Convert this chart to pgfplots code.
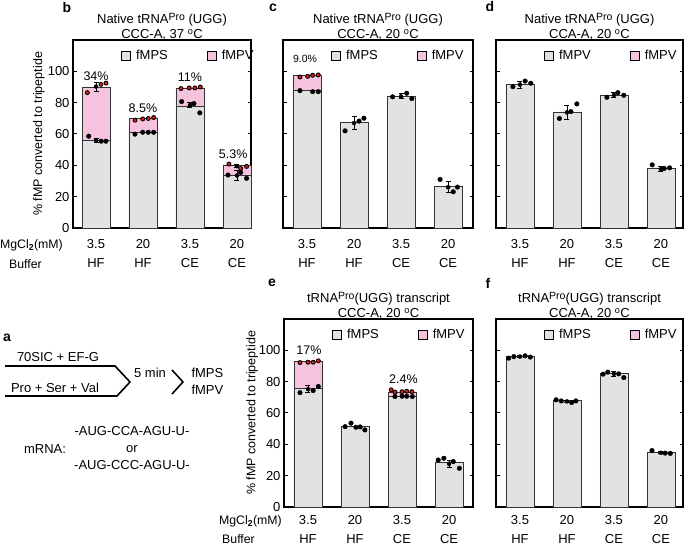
\documentclass[border=0pt]{standalone}
\usepackage{pgfplots}
\pgfplotsset{compat=1.18}
\usepackage{fontspec}
\setmainfont{Liberation Sans}

\definecolor{barg}{HTML}{E1E2E2}
\definecolor{barp}{HTML}{F6C3DF}
\definecolor{dotred}{HTML}{E0201B}

\newcommand{\pro}{\raisebox{3.5pt}{\fontsize{10.5}{12}\selectfont Pro}}
\tikzset{pct/.style={font=\fontsize{12.5}{15}\selectfont}}

\pgfplotsset{
  panel/.style={
    scale only axis, height=188pt, ymin=0, ymax=120,
    ytick={0,20,40,60,80,100}, ytick pos=both, yticklabel pos=left,
    tick align=inside, major tick length=3.5pt,
    xtick={0,1,2,3}, xticklabels={{3.5\\HF},{20\\HF},{3.5\\CE},{20\\CE}},
    x tick style={draw=none},
    xticklabel style={align=center, font=\fontsize{13}{19}\selectfont, yshift=-8pt},
    yticklabel style={font=\fontsize{13}{15}\selectfont},
    /pgf/number format/assume math mode=true,
    axis line style={line width=1.3pt},
    y tick style={line width=1pt, black},
    title style={at={(axis description cs:0.5,1)}, anchor=south, align=center,
      font=\fontsize{13}{15}\selectfont, yshift=-10pt},
    ylabel style={font=\fontsize{12.5}{15}\selectfont},
    clip=false,
    legend image code/.code={\draw[#1] (0pt,-4.5pt) rectangle (9pt,4.5pt);
      \path (12pt,0pt);},
    legend style={draw=none, fill=none, legend columns=2,
      at={(axis description cs:0,1)}, anchor=north west, xshift=45pt, yshift=-6pt,
      font=\fontsize{13}{15}\selectfont,
      /tikz/every even column/.append style={column sep=37pt}},
  },
  gbar/.style={ybar, bar width=28pt, bar shift=0pt, fill=barg, draw=black!80, line width=0.8pt},
  pbar/.style={ybar, bar width=28pt, bar shift=0pt, fill=barp, draw=black!80, line width=0.8pt},
  sdot/.style={only marks, mark=*, mark size=2.3pt, black},
  vdot/.style={only marks, mark=*, mark size=2pt, mark options={fill=dotred, draw=black, line width=0.9pt}},
  ebar/.style={only marks, mark=none, black,
    error bars/y dir=both, error bars/y explicit,
    error bars/error bar style={line width=0.8pt, black},
    error bars/error mark options={rotate=90, mark size=2.5pt, line width=0.8pt, black}},
}

\begin{document}
\begin{tikzpicture}[x=1pt, y=1pt]
\useasboundingbox (0,0) rectangle (685,545);

% ---- b
\begin{axis}[panel, at={(73pt,317pt)}, anchor=south west, width=178pt,
  xmin=-0.49, xmax=3.30,
  title={Native tRNA\pro\ (UGG)\\CCC-A, 37 \textsuperscript{o}C},
  ylabel={\% fMP converted to tripeptide},
  ylabel style={at={(axis description cs:-0.191,0.5)}, anchor=center}]
\addlegendimage{fill=barg, draw=black, line width=0.9pt}\addlegendentry{fMPS}
\addlegendimage{fill=barp, draw=black, line width=0.9pt}\addlegendentry{fMPV}
\addplot[forget plot, pbar] coordinates {(0,90.0) (1,69.9) (2,89.4) (3,39.7)};
\addplot[forget plot, gbar] coordinates {(0,56.0) (1,61.1) (2,77.9) (3,33.8)};
\addplot[forget plot, ebar] coordinates {(0,90.3) +- (0,2.9) (0,56.0) +- (0,1.5)
  (2,78.4) +- (0,1.5) (3,39.5) +- (0,1.0) (3,33.5) +- (0,3.0)};
\addplot[forget plot, vdot] coordinates {(-0.185,86.4) (0.106,91.7) (0.213,92.5)
  (0.83,68.8) (0.994,69.6) (1.113,69.9) (1.228,70.5)
  (1.81,89.0) (1.985,89.4) (2.106,89.4) (2.22,90.0)
  (2.83,40.8) (3.08,38.0) (3.206,39.3)};
\addplot[forget plot, sdot] coordinates {(-0.155,58.6) (0.11,55.4) (0.21,55.4)
  (0.83,59.9) (0.994,61.1) (1.113,61.1) (1.228,61.1)
  (1.823,80.7) (2.085,79.4) (2.21,73.5)
  (2.81,33.8) (3.08,35.5) (3.206,31.7)};
\node[pct] at (axis cs:0,97) {34\%};
\node[pct] at (axis cs:1,76.5) {8.5\%};
\node[pct] at (axis cs:2,96) {11\%};
\node[pct] at (axis cs:2.92,47) {5.3\%};
\end{axis}

% ---- c
\begin{axis}[panel, at={(283pt,317pt)}, anchor=south west, width=190pt,
  xmin=-0.51, xmax=3.53, yticklabels={},
  title={Native tRNA\pro\ (UGG)\\CCC-A, 20 \textsuperscript{o}C}]
\addlegendimage{fill=barg, draw=black, line width=0.9pt}\addlegendentry{fMPS}
\addlegendimage{fill=barp, draw=black, line width=0.9pt}\addlegendentry{fMPV}
\addplot[forget plot, pbar] coordinates {(0,97.2)};
\addplot[forget plot, gbar] coordinates {(0,87.7) (1,67.3) (2,84.1) (3,26.3)};
\addplot[forget plot, ebar] coordinates {(1,67.0) +- (0,4.0) (2,84.0) +- (0,1.6) (3,26.0) +- (0,3.5)};
\addplot[forget plot, vdot] coordinates {(-0.15,96.4) (0.015,96.8) (0.12,97.5) (0.24,97.7)};
\addplot[forget plot, sdot] coordinates {(-0.15,87.7) (0.12,87.0) (0.24,87.0)
  (0.81,62.0) (1.106,68.2) (1.21,70.1)
  (1.82,83.7) (2.12,86.0) (2.23,82.6)
  (2.83,31.0) (3.11,23.1) (3.2,26.1)};
\node[font=\fontsize{10.5}{12}\selectfont] at (axis cs:-0.04,108) {9.0\%};
\end{axis}

% ---- d
\begin{axis}[panel, at={(496pt,317pt)}, anchor=south west, width=187pt,
  xmin=-0.51, xmax=3.47, yticklabels={},
  title={Native tRNA\pro\ (UGG)\\CCA-A, 20 \textsuperscript{o}C}]
\addlegendimage{fill=barg, draw=black, line width=0.9pt}\addlegendentry{fMPV}
\addlegendimage{fill=barp, draw=black, line width=0.9pt}\addlegendentry{fMPV}
\addplot[forget plot, gbar] coordinates {(0,91.9) (1,74.1) (2,84.9) (3,38.2)};
\addplot[forget plot, ebar] coordinates {(0,91.5) +- (0,2.1) (1,73.8) +- (0,4.5)
  (2,84.9) +- (0,1.5) (3,37.6) +- (0,1.6)};
\addplot[forget plot, sdot] coordinates {(-0.15,90.2) (0.11,93.8) (0.23,92.4)
  (0.84,69.9) (1.085,74.3) (1.21,79.2)
  (1.85,83.4) (2.085,86.4) (2.21,84.7)
  (2.815,40.3) (3.07,38.0) (3.185,38.4)};
\end{axis}

% ---- e
\begin{axis}[panel, at={(284pt,38pt)}, anchor=south west, width=189pt,
  xmin=-0.51, xmax=3.51,
  xticklabel style={yshift=3pt},
  title={tRNA\pro(UGG) transcript\\CCC-A, 20 \textsuperscript{o}C},
  ylabel={\% fMP converted to tripeptide},
  ylabel style={at={(axis description cs:-0.169,0.5)}, anchor=center}]
\addlegendimage{fill=barg, draw=black, line width=0.9pt}\addlegendentry{fMPS}
\addlegendimage{fill=barp, draw=black, line width=0.9pt}\addlegendentry{fMPV}
\addplot[forget plot, pbar] coordinates {(0,92.8) (2,73.0)};
\addplot[forget plot, gbar] coordinates {(0,75.4) (1,51.3) (2,70.9) (3,28.6)};
\addplot[forget plot, ebar] coordinates {(0,75.2) +- (0,2.1) (3,27.5) +- (0,2.4)};
\addplot[forget plot, vdot] coordinates {(-0.17,92.2) (0.0,92.4) (0.11,92.4) (0.22,93.3)
  (1.77,74.8) (1.85,73.3) (2.0,73.6) (2.1,73.9) (2.21,73.6)};
\addplot[forget plot, sdot] coordinates {(-0.17,73.0) (0.11,74.3) (0.22,76.9)
  (0.79,51.3) (0.915,53.5) (1.02,50.9) (1.11,51.1) (1.21,49.2)
  (1.85,70.5) (2.0,70.7) (2.1,70.7) (2.22,70.5)
  (2.77,30.0) (2.89,31.1) (3.09,29.0) (3.22,24.7)};
\node[pct] at (axis cs:0.02,100.3) {17\%};
\node[pct] at (axis cs:2.03,81.6) {2.4\%};
\end{axis}

% ---- f
\begin{axis}[panel, at={(496pt,38pt)}, anchor=south west, width=187pt,
  xmin=-0.51, xmax=3.47, yticklabels={},
  xticklabel style={yshift=3pt},
  title={tRNA\pro(UGG) transcript\\CCA-A, 20 \textsuperscript{o}C}]
\addlegendimage{fill=barg, draw=black, line width=0.9pt}\addlegendentry{fMPS}
\addlegendimage{fill=barp, draw=black, line width=0.9pt}\addlegendentry{fMPV}
\addplot[forget plot, gbar] coordinates {(0,96.0) (1,67.9) (2,85.0) (3,34.9)};
\addplot[forget plot, ebar] coordinates {(0,96.0) +- (0,0.7) (1,67.4) +- (0,0.8)
  (2,85.0) +- (0,1.5) (3,34.6) +- (0,0.7)};
\addplot[forget plot, sdot] coordinates {(-0.24,95.0) (-0.13,96.0) (0.11,96.5) (0.22,95.7)
  (0.77,68.4) (0.88,67.7) (1.1,66.7) (1.19,67.7)
  (1.77,84.8) (1.87,86.1) (2.1,85.0) (2.21,82.6)
  (2.81,36.0) (3.09,34.4) (3.2,34.2)};
\end{axis}

% row labels
\begin{scope}[every node/.style={font=\fontsize{12.3}{15}\selectfont, inner sep=1pt}]
\node[anchor=east] at (64,300) {MgCl\textsubscript{\textbf{2}}(mM)};
\node[anchor=east] at (43,281) {Buffer};
\node[anchor=east] at (283,24) {MgCl\textsubscript{\textbf{2}}(mM)};
\node[anchor=east] at (256,6) {Buffer};
\end{scope}

% panel letters
\begin{scope}[every node/.style={font=\bfseries\fontsize{14}{16}\selectfont}]
\node at (67,537) {b};
\node at (273,537) {c};
\node at (490,538) {d};
\node at (272,262) {e};
\node at (488,262) {f};
\node at (7,207) {a};
\end{scope}

% scheme a
\draw[line width=1.6pt] (5,179) -- (115,179) -- (130,163) -- (117,149) -- (5,149);
\draw[line width=1.6pt] (172,175) -- (183,163) -- (172,151);
\begin{scope}[every node/.style={font=\fontsize{13}{15}\selectfont}]
\node at (58,188) {70SIC + EF-G};
\node at (55,157) {Pro + Ser + Val};
\node at (150,172) {5 min};
\node[anchor=west] at (188,172) {fMPS};
\node[anchor=west] at (188,155) {fMPV};
\node at (45,96) {mRNA:};
\node at (132,114) {-AUG-CCA-AGU-U-};
\node at (132,96) {or};
\node at (132,80) {-AUG-CCC-AGU-U-};
\end{scope}
\end{tikzpicture}
\end{document}
